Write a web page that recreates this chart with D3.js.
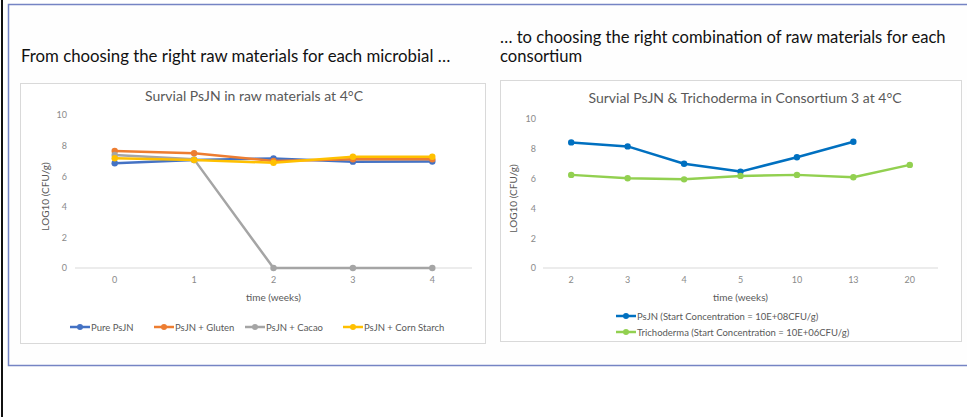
<!DOCTYPE html>
<html lang="en">
<head>
<meta charset="UTF-8">
<title>Survival charts</title>
<style>
  body { margin: 0; background: #fff; }
  svg { display: block; font-family: Lato, "Open Sans", sans-serif; }
</style>
</head>
<body>
<div id="chart"></div>
<script src="https://cdn.jsdelivr.net/npm/d3@7"></script>
<script>
// ---- data: left chart ----
const weeksA = ['0', '1', '2', '3', '4'];
const purePsJN = [6.85, 7.06, 7.16, 6.95, 6.96];
const psjnGluten = [7.65, 7.5, 7.0, 7.1, 7.1];
const psjnCacao = [7.39, 7.1, 0, 0, 0];
const psjnCorn = [7.17, 7.06, 6.88, 7.27, 7.27];
const seriesA = ['Pure PsJN', 'PsJN + Gluten', 'PsJN + Cacao', 'PsJN + Corn Starch'];

// ---- data: right chart ----
const weeksB = ['2', '3', '4', '5', '10', '13', '20'];
const psjnConsortium = [8.43, 8.16, 7.0, 6.47, 7.43, 8.47, null];
const trichoderma = [6.25, 6.02, 5.95, 6.18, 6.25, 6.09, 6.92];
const seriesB = ['PsJN (Start Concentration = 10E+08CFU/g)', 'Trichoderma (Start Concentration = 10E+06CFU/g)'];

const yTicks = [0, 2, 4, 6, 8, 10];

const svg = d3.select('#chart').append('svg').attr('width', 967).attr('height', 417);

// page furniture
svg.append('line').attr('x1', 2).attr('x2', 2).attr('y1', 0).attr('y2', 417)
  .attr('stroke', '#111').attr('stroke-width', 2);
svg.append('rect').attr('x', 8.5).attr('y', 4.5).attr('width', 970).attr('height', 361)
  .attr('fill', '#fefefe').attr('stroke', '#7584c4').attr('stroke-width', 1.5);

svg.append('text').attr('x', 21).attr('y', 62).attr('font-size', 16.8).attr('fill', '#111')
  .text('From choosing the right raw materials for each microbial …');
svg.append('text').attr('x', 500).attr('y', 43).attr('font-size', 16.6).attr('fill', '#111')
  .text('… to choosing the right combination of raw materials for each');
svg.append('text').attr('x', 500).attr('y', 62).attr('font-size', 16.6).attr('fill', '#111')
  .text('consortium');

function drawChart(cfg) {
  const g = svg.append('g');
  g.append('rect').attr('x', cfg.box[0] + 0.5).attr('y', cfg.box[1] + 0.5)
    .attr('width', cfg.box[2]).attr('height', cfg.box[3])
    .attr('fill', '#fff').attr('stroke', '#d9d9d9');

  g.append('text').attr('x', cfg.titleX).attr('y', cfg.titleY).attr('text-anchor', 'middle')
    .attr('font-size', 14).attr('fill', '#595959').text(cfg.title);

  const x = d3.scaleBand().domain(cfg.cats).range(cfg.xRange);
  const y = d3.scaleLinear().domain([0, 10]).range(cfg.yRange);
  const cx = d => x(d) + x.bandwidth() / 2;

  // y tick labels
  const yAxis = d3.axisLeft(y).tickValues(yTicks).tickSize(0).tickPadding(0);
  const ya = g.append('g').attr('transform', `translate(${cfg.yLabelX},0)`).call(yAxis);
  ya.select('.domain').remove();
  ya.selectAll('text').attr('font-size', 9).attr('fill', '#8a8a8a').attr('font-family', 'Lato, sans-serif');

  // zero line
  g.append('line').attr('x1', cfg.xRange[0]).attr('x2', cfg.xRange[1])
    .attr('y1', y(0)).attr('y2', y(0)).attr('stroke', '#d9d9d9').attr('stroke-width', 1);

  // x tick labels
  const xAxis = d3.axisBottom(x).tickSize(0).tickPadding(0);
  const xa = g.append('g').attr('transform', `translate(0,${y(0) + 9})`).call(xAxis);
  xa.select('.domain').remove();
  xa.selectAll('text').attr('font-size', 9).attr('fill', '#8a8a8a').attr('font-family', 'Lato, sans-serif');

  g.append('text').attr('x', (cfg.xRange[0] + cfg.xRange[1]) / 2).attr('y', y(0) + 33)
    .attr('text-anchor', 'middle').attr('font-size', 10).attr('fill', '#595959').text('time (weeks)');
  g.append('text').attr('transform', `translate(${cfg.yTitleX},${y(5) + 5}) rotate(-90)`)
    .attr('text-anchor', 'middle').attr('font-size', 10).attr('fill', '#595959').text('LOG10 (CFU/g)');

  const line = d3.line().defined(d => d.v != null).x(d => cx(d.c)).y(d => y(d.v));
  cfg.series.forEach(s => {
    const pts = cfg.cats.map((c, i) => ({ c: c, v: s.values[i] }));
    g.append('path').datum(pts).attr('d', line).attr('fill', 'none')
      .attr('stroke', s.color).attr('stroke-width', 2.5).attr('stroke-linejoin', 'round');
    g.selectAll(null).data(pts.filter(d => d.v != null)).enter().append('circle')
      .attr('cx', d => cx(d.c)).attr('cy', d => y(d.v)).attr('r', 3.2).attr('fill', s.color);
  });

  // legend
  cfg.series.forEach((s, i) => {
    const [lx, ly] = cfg.legendPos[i];
    g.append('line').attr('x1', lx).attr('x2', lx + 20).attr('y1', ly).attr('y2', ly)
      .attr('stroke', s.color).attr('stroke-width', 2.5);
    g.append('circle').attr('cx', lx + 10).attr('cy', ly).attr('r', 3).attr('fill', s.color);
    g.append('text').attr('x', lx + 21).attr('y', ly + 3.5).attr('font-size', 9.5)
      .attr('fill', '#595959').text(s.name);
  });
}

drawChart({
  box: [20, 83, 465, 260],
  title: 'Survial PsJN in raw materials at 4°C',
  titleX: 254, titleY: 101,
  cats: weeksA,
  xRange: [75, 472],
  yRange: [268, 115],
  yLabelX: 67, yTitleX: 49,
  series: [
    { name: seriesA[0], values: purePsJN, color: '#4472c4' },
    { name: seriesA[1], values: psjnGluten, color: '#ed7d31' },
    { name: seriesA[2], values: psjnCacao, color: '#a5a5a5' },
    { name: seriesA[3], values: psjnCorn, color: '#ffc000' }
  ],
  legendPos: [[70, 327], [154, 327], [245, 327], [343, 327]]
});

drawChart({
  box: [500, 80, 461, 261],
  title: 'Survial PsJN & Trichoderma in Consortium 3 at 4°C',
  titleX: 745, titleY: 103,
  cats: weeksB,
  xRange: [543, 938],
  yRange: [268, 119],
  yLabelX: 536, yTitleX: 517,
  series: [
    { name: seriesB[0], values: psjnConsortium, color: '#0070c0' },
    { name: seriesB[1], values: trichoderma, color: '#92d050' }
  ],
  legendPos: [[616, 316], [616, 332]]
});
</script>
</body>
</html>
